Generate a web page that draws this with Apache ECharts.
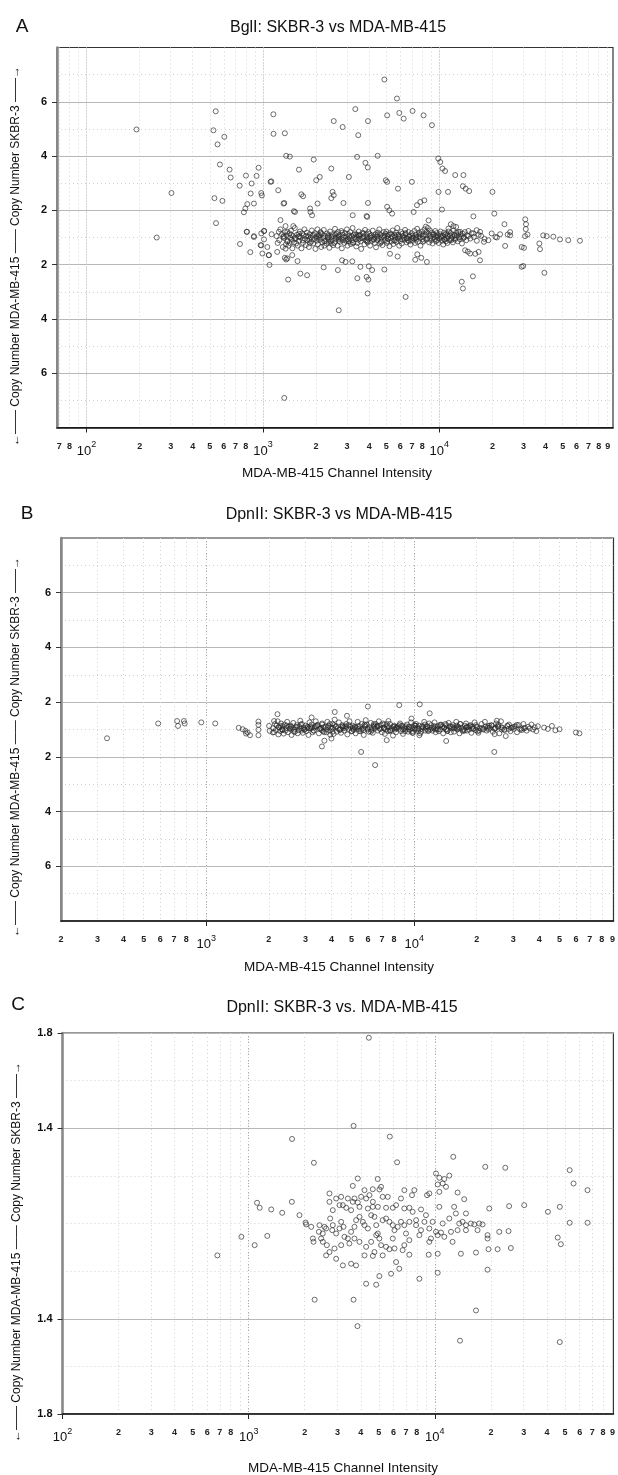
<!DOCTYPE html>
<html><head><meta charset="utf-8">
<script src="https://cdn.jsdelivr.net/npm/echarts@6/dist/echarts.min.js"></script>
<style>html,body{margin:0;padding:0;background:#fff}#c{width:618px;height:1475px}</style>
</head><body><div id="c"></div>
<script>
// ---------- tick values ----------
const gridA = [70,80,90,100,200,300,400,500,600,700,800,900,1000,2000,3000,4000,5000,6000,7000,8000,9000,10000,20000,30000,40000,50000,60000,70000,80000,90000];
const gridB = [200,300,400,500,600,700,800,900,1000,2000,3000,4000,5000,6000,7000,8000,9000,10000,20000,30000,40000,50000,60000,70000,80000,90000];
const gridC = [100,200,300,400,500,600,700,800,900,1000,2000,3000,4000,5000,6000,7000,8000,9000,10000,20000,30000,40000,50000,60000,70000,80000,90000];
const labelsA = [70,80,100,200,300,400,500,600,700,800,1000,2000,3000,4000,5000,6000,7000,8000,10000,20000,30000,40000,50000,60000,70000,80000,90000];
const labelsB = [200,300,400,500,600,700,800,1000,2000,3000,4000,5000,6000,7000,8000,10000,20000,30000,40000,50000,60000,70000,80000,90000];
const labelsC = [100,200,300,400,500,600,700,800,1000,2000,3000,4000,5000,6000,7000,8000,10000,20000,30000,40000,50000,60000,70000,80000,90000];
const decades = [100,1000,10000];
const yLabeledAB = [-5,-3,-1,1,3,5];
const yDottedAB = [-6,-4,-2,0,2,4,6];
const yLabeledC = [-0.8,-0.4,0.4,0.8];
const yDottedC = [-0.6,-0.2,0,0.2,0.6];

// ---------- Panel A: BglI (intensity, copy-number offset) ----------
const bglOutliers = [[192,3.98],[303,1.64],[250,0.0],[540,4.65],[524,3.95],[604,3.71],[553,3.43],[570,2.69],[647,2.5],[656,2.21],[531,1.45],[589,1.35],[542,0.53],[738,1.91],[801,2.28],[863,1.99],[852,1.62],[920,2.27],[945,2.57],[978,1.64],[986,1.55],[1105,2.05],[1221,1.74],[1146,4.54],[1148,3.82],[1331,3.84],[1354,3.01],[1321,1.27],[815,1.23],[889,1.25],[780,0.93],[795,1.07],[812,0.21],[889,0.02],[741,-0.24],[848,-0.54],[978,-0.29],[978,0.15],[1016,0.24],[1079,-0.65],[1089,-1.01],[1257,0.64],[1390,-1.55],[1321,-5.91],[1354,-0.81],
[809,0.21],[889,0.05],[1014,0.24],[1014,-0.07],[1120,0.12],[1231,0.21],[1315,0.05],[1343,0.42],[1374,0.21],[1486,0.42],[970,-0.28],[1059,-0.35],[993,-0.59],[1081,-0.65],[1205,-0.53],[1343,-0.41],[1374,-0.77],[1466,-0.65],[1497,0.97],[1115,2.07],
[4880,5.82],[5750,5.12],[3340,4.73],[5060,4.5],[5930,4.59],[6280,4.38],[7050,4.66],[8140,4.5],[9080,4.14],[2520,4.29],[2830,4.07],[3940,4.29],[3470,3.77],[1420,2.98],[1940,2.87],[1600,2.5],[2440,2.54],[3420,2.97],[4470,3.01],[3810,2.75],[3930,2.58],[2005,2.11],[2100,2.23],[3070,2.23],[4970,2.11],[5060,2.05],[5830,1.8],[6990,2.05],[9860,2.91],[10120,2.78],[10420,2.54],[10780,2.45],[12300,2.3],[13700,2.3],[13600,1.89],[14100,1.8],[14760,1.71],[9900,1.68],[11200,1.68],[20000,1.68],[1650,1.59],[1690,1.52],[2480,1.68],[2520,1.56],[2440,1.45],[1309,1.25],[1520,0.94],[1860,0.94],[1900,0.82],[2040,1.25],[1850,1.07],[2860,1.27],[3940,1.27],[5060,1.13],[5210,1.0],[5400,0.88],[7470,1.19],[7800,1.31],[8220,1.37],[7150,0.94],[8690,0.63],[10350,1.03],[15600,0.78],[20500,0.88],[3230,0.82],[3900,0.76],[3870,0.79],
[1330,-0.75],[1570,-0.87],[1630,-1.33],[1780,-1.39],[2210,-1.1],[2660,-1.2],[2810,-0.84],[2940,-0.9],[3210,-0.88],[3570,-1.08],[3980,-1.06],[4160,-1.2],[4880,-1.18],[3430,-1.5],[3870,-1.45],[3960,-1.55],[3920,-2.06],[6440,-2.19],[2690,-2.68],[13400,-1.63],[13600,-1.88],[15500,-1.43],[7500,-0.62],[7900,-0.75],[8500,-0.9],[7300,-0.82],[17000,-0.84],[14500,-0.52],[16000,-0.6],[5250,-0.6],[5800,-0.7],[29300,-1.08],[29300,-0.35],
[23400,0.49],[25200,0.08],[24400,0.11],[23600,-0.31],[30700,0.67],[31000,0.49],[30900,0.31],[31600,0.11],[30600,0.05],[30200,-0.38],[29900,-1.05],[36900,-0.22],[37200,-0.43],[38800,0.08],[40600,0.05],[44300,0.03],[48300,-0.07],[53800,-0.1],[62700,-0.12],[39400,-1.3],[14000,-0.47],[14950,-0.59],[16700,-0.53],[17900,-0.16],[18970,-0.1],[21200,0.0],[22100,0.12],
[11270,0.33],[11620,0.49],[12030,0.42],[12450,0.39],[13120,0.21],[14620,0.24],[15600,0.15],[16290,0.27],[17020,0.21],[19800,0.15],[20800,0.02],[25200,0.2]];
const bglBand = [[1195,0.05],[1212,-0.2],[1238,-0.1],[1256,0.3],[1281,0.12],[1297,-0.35],[1318,-0.02],[1334,0.2],[1349,-0.25],[1362,0.08],[1381,-0.12],[1398,-0.3],[1413,0.15],[1426,0.0],[1441,0.25],[1456,-0.08],[1468,-0.4],[1483,0.05],[1497,-0.18],[1516,0.35],[1528,-0.05],[1544,-0.22],[1559,0.1],[1574,-0.3],[1588,0.02],[1603,-0.12],[1619,0.22],[1636,0.0],[1652,-0.4],[1668,0.15],[1688,-0.2],[1703,0.08],[1719,0.3],[1733,-0.05],[1751,-0.28],[1772,0.18],[1788,-0.1],[1806,0.04],[1821,-0.35],[1842,0.12],[1866,0.0],[1879,-0.15],[1894,0.26],[1911,0.07],[1928,-0.22],[1953,-0.06],[1968,0.16],[1984,-0.42],[2002,0.02],[2019,-0.12],[2037,0.3],[2051,-0.25],[2074,0.1],[2093,0.0],[2108,-0.08],[2121,0.2],[2139,-0.35],[2152,0.12],[2171,-0.18],[2196,-0.02],[2213,0.28],[2228,-0.3],[2247,0.06],[2266,-0.12],[2291,-0.22],[2309,0.15],[2327,0.0],[2344,0.09],[2362,-0.06],[2381,-0.38],[2403,0.22],[2421,-0.15],[2442,0.02],[2461,-0.1],[2479,0.12],[2501,-0.28],[2522,0.04],[2540,-0.2],[2561,0.32],[2583,-0.05],[2604,0.14],[2628,0.0],[2647,-0.3],[2666,0.2],[2688,-0.12],[2707,0.08],[2731,-0.16],[2760,-0.04],[2782,0.24],[2801,-0.4],[2826,0.1],[2848,-0.1],[2871,0.0],[2897,-0.2],[2922,0.16],[2951,0.03],[2972,-0.08],[2994,0.3],[3017,-0.3],[3044,0.12],[3069,-0.14],[3098,-0.02],[3121,0.2],[3147,-0.24],[3172,0.06],[3196,-0.1],[3223,0.35],[3251,-0.18],[3277,0.1],[3302,0.0],[3331,0.15],[3358,-0.06],[3382,-0.33],[3411,0.02],[3437,-0.2],[3468,-0.08],[3496,0.22],[3522,0.07],[3553,0.1],[3581,-0.14],[3607,-0.42],[3642,-0.03],[3671,0.18],[3702,0.0],[3733,0.05],[3761,-0.25],[3794,0.28],[3826,-0.1],[3858,0.12],[3897,0.0],[3921,-0.18],[3952,0.2],[3984,-0.05],[4013,0.14],[4049,-0.3],[4088,-0.02],[4121,0.08],[4158,-0.12],[4197,0.25],[4232,-0.08],[4268,0.02],[4303,-0.2],[4338,0.12],[4377,-0.36],[4411,0.04],[4452,-0.1],[4489,0.18],[4527,-0.04],[4566,0.3],[4604,-0.22],[4641,0.1],[4682,-0.14],[4720,0.0],[4759,-0.28],[4801,0.06],[4843,0.2],[4880,0.0],[4921,-0.1],[4963,0.14],[5004,0.22],[5049,-0.2],[5088,0.05],[5133,-0.06],[5177,0.1],[5219,-0.32],[5263,0.16],[5309,-0.02],[5352,-0.14],[5398,0.04],[5441,0.26],[5487,-0.24],[5533,-0.1],[5581,0.08],[5628,0.0],[5677,0.18],[5724,-0.16],[5772,0.35],[5823,-0.04],[5871,0.1],[5920,-0.3],[5971,0.02],[6022,-0.12],[6073,0.2],[6126,-0.22],[6179,0.14],[6232,0.06],[6287,0.0],[6341,-0.08],[6396,0.28],[6452,0.12],[6508,-0.18],[6565,-0.02],[6622,-0.1],[6680,0.2],[6738,0.04],[6797,0.08],[6856,-0.26],[6916,-0.05],[6977,0.16],[7038,-0.12],[7100,0.0],[7162,-0.04],[7225,0.24],[7288,-0.2],[7352,0.1],[7417,-0.08],[7482,0.32],[7548,-0.16],[7614,0.04],[7681,0.18],[7749,0.0],[7817,-0.3],[7886,0.12],[7955,0.22],[8025,-0.06],[8096,0.06],[8167,-0.12],[8239,0.3],[8312,0.1],[8385,0.4],[8459,0.2],[8533,-0.04],[8608,0.35],[8684,0.14],[8761,-0.18],[8838,0.26],[8916,0.05],[8994,-0.1],[9074,0.18],[9154,-0.22],[9234,0.0],[9316,0.1],[9398,-0.06],[9480,0.24],[9564,-0.14],[9648,0.16],[9733,0.02],[9819,0.08],[9905,-0.2],[9992,-0.04],[10080,0.12],[10170,0.22],[10260,0.0],[10350,-0.12],[10440,0.06],[10530,-0.26],[10630,0.18],[10720,-0.08],[10820,0.1],[10910,0.14],[11010,-0.02],[11110,-0.2],[11210,0.04],[11310,0.22],[11410,-0.1],[11510,0.08],[11620,0.16],[11720,-0.04],[11830,0.02],[11930,-0.18],[12040,0.26],[12150,0.1],[12260,-0.08],[12370,-0.02],[12480,0.18],[12600,0.08],[12710,-0.14],[12830,0.2],[12950,0.0],[13070,-0.06],[13190,0.12],[13310,0.04],[13430,-0.22],[13560,0.14],[13690,-0.02],[13820,0.0],[13950,0.2],[14210,-0.1],[14340,0.08],[14600,0.05],[14980,-0.04],[15240,0.16],[15690,0.02],[16320,-0.12],[16700,0.1],[17250,0.06],[18050,-0.05],
[1305,0.02],[1372,-0.15],[1447,0.1],[1521,-0.02],[1598,0.14],[1679,-0.1],[1761,0.06],[1849,-0.2],[1939,0.1],[2032,-0.04],[2129,0.16],[2233,-0.14],[2338,0.04],[2451,-0.22],[2566,0.1],[2690,-0.06],[2815,0.18],[2948,-0.12],[3086,0.06],[3231,-0.2],[3383,0.1],[3541,-0.04],[3707,0.14],[3881,-0.14],[4063,0.04],[4254,-0.06],[4453,0.1],[4662,-0.18],[4880,0.08],[5109,-0.04],[5349,0.12],[5599,-0.12],[5862,0.04],[6136,-0.06],[6424,0.16],[6725,-0.14],[7040,0.06],[7370,-0.02],[7716,0.12],[8077,-0.16],[8456,0.08],[8852,-0.04],[9267,0.12],[9701,-0.1],[10156,0.04],[10632,-0.06],[11130,0.1],[11652,-0.1],[12197,0.06],
[1420,-0.2],[1610,0.04],[1830,-0.08],[2080,0.06],[2360,-0.16],[2680,0.02],[3040,-0.06],[3450,0.08],[3920,-0.1],[4450,0.02],[5060,-0.14],[5750,0.1],[6530,-0.04],[7420,0.02],[8430,-0.08],[9580,0.04],[10890,-0.14]];

// ---------- Panel B: DpnII ----------
const dpnOutliers = [[333,-0.32],[587,0.22],[724,0.31],[731,0.13],[780,0.31],[787,0.22],[946,0.26],[1104,0.22],[1432,0.06],[1496,0.01],[1542,-0.05],[1581,-0.11],[1623,-0.21],[1553,-0.15],[1782,0.29],[1782,0.17],[1782,-0.01],[1782,-0.21],[2005,0.13],[2018,-0.05],[2118,0.31],[2280,0.13],[2322,0.01],[2090,-0.11],
[2200,0.56],[3210,0.44],[4150,0.64],[4750,0.5],[5990,0.84],[8480,0.89],[10640,0.92],[11880,0.59],[9710,0.4],[7520,0.31],[3600,-0.62],[3700,-0.41],[4000,-0.33],[3950,-0.19],[5560,-0.82],[6490,-1.3],[7380,-0.39],[14260,-0.42],[10600,-0.21],[9800,-0.12],[24300,-0.82],[25000,0.32],[24400,-0.17],[31200,0.17],[32800,0.04],[33700,0.04],[62400,-0.14],[60000,-0.11],[50100,0.01],[46000,0.13],[42200,0.07],[44000,0.02],[47800,-0.03]];
const dpnBandX = [2100,2118,2141,2160,2183,2204,2222,2247,2268,2290,2311,2335,2356,2380,2403,2426,2450,2474,2497,2522,2546,2571,2596,2620,2646,2672,2698,2724,2750,2777,2804,2831,2859,2886,2914,2943,2971,3000,
3030,3067,3101,3139,3172,3210,3248,3285,3324,3362,3401,3442,3481,3523,3564,3606,3648,3691,3735,3778,3823,3868,3913,3959,4006,4052,4100,4148,4197,4246,4296,4346,4397,4449,4501,4554,4607,4661,4716,4771,4827,4884,4941,5000,
5060,5117,5174,5231,5290,5350,5410,5470,5532,5594,5657,5720,5784,5849,5915,5981,6048,6116,6185,6254,6325,6396,6468,6540,6614,6688,6763,6839,6916,6994,7073,7152,7233,7314,7396,7479,7563,7648,7734,7821,7909,7998,
8090,8180,8270,8360,8455,8550,8645,8740,8840,8940,9040,9140,9245,9350,9455,9560,9665,9775,9885,9995,10110,10220,10340,10455,10570,10690,10810,10930,11050,11180,11300,11430,11560,11690,11820,11950,
12090,12240,12390,12540,12690,12840,13000,13150,13310,13470,13630,13800,13960,14130,14300,14480,14650,14830,15010,15190,15370,15560,15750,15940,16130,16320,16520,16720,16920,17130,17330,17540,17750,17970,18190,18400,18630,18850,19080,19310,19540,19780,
20020,20380,20750,21120,21500,21890,22280,22680,23090,23500,23920,24350,24790,25240,25690,26150,26620,27100,27590,28080,28590,29100,29620,30150,30700,31250,31810,32380,32960,33550,34160,34770,35400,36030,36680,37340,38010,38690,39390,
3110,3350,3590,3850,4120,4420,4730,5070,5430,5820,6230,6680,7150,7660,8210,8790,9420,10090,10810,11580,12400,13280,14230,15240,16320,17480,18720,20050,21480,23000,24640,26390,
2560,2870,3220,3610,4050,4540,5090,5710,6400,7180,8050,9030,10130,11360,12740,14290,16030,17980,20170,22620,25370,28460];
const dpnBandY = [0.05,-0.1,0.2,-0.02,0.15,0.3,-0.18,0.08,-0.06,0.22,0.0,0.12,-0.15,0.18,-0.04,0.06,0.28,-0.1,0.1,0.02,0.14,-0.2,0.04,0.24,0.0,-0.08,0.08,0.16,-0.14,-0.02,0.1,0.32,0.04,0.2,-0.12,0.06,0.0,0.14,
-0.06,0.1,-0.2,0.26,0.04,0.18,-0.1,-0.04,0.08,0.3,0.12,0.16,-0.14,0.02,0.06,0.22,-0.06,-0.1,0.1,0.0,0.28,0.14,-0.04,0.08,0.02,0.2,-0.16,0.36,0.1,-0.08,0.04,0.26,0.0,-0.12,0.16,0.06,-0.04,0.12,0.2,-0.18,0.02,0.3,0.1,-0.06,
0.14,-0.02,0.1,-0.14,0.06,0.28,0.02,0.12,-0.06,0.2,0.04,-0.2,0.1,0.34,0.18,0.0,-0.08,0.08,0.24,-0.02,-0.12,0.14,0.04,0.2,0.1,-0.04,0.3,0.02,0.16,-0.1,0.22,0.06,-0.16,0.0,0.12,-0.06,0.08,0.2,-0.02,0.04,-0.22,0.14,
0.0,-0.1,0.06,0.12,0.02,0.22,-0.06,0.14,-0.16,0.04,0.08,0.0,0.18,-0.08,0.1,-0.02,0.26,0.06,-0.12,0.16,0.0,0.2,0.04,-0.06,0.14,-0.14,0.02,0.12,0.08,0.28,-0.04,0.02,0.12,-0.06,0.22,0.0,
0.16,-0.04,0.08,0.26,-0.1,0.04,0.12,-0.06,0.0,0.18,0.1,-0.14,0.06,0.2,0.02,-0.04,0.24,0.12,-0.1,0.04,0.16,-0.08,0.06,0.28,0.0,0.1,-0.14,0.2,0.06,-0.06,0.02,0.14,0.22,-0.04,0.08,0.0,0.16,-0.12,0.1,0.04,0.26,-0.02,
0.1,-0.12,0.04,0.2,0.0,0.28,-0.04,0.12,0.06,0.16,-0.08,0.02,0.22,0.1,-0.14,0.3,0.06,0.0,-0.24,0.14,0.18,-0.06,0.08,0.02,0.12,-0.1,0.16,0.0,-0.02,0.2,0.06,-0.04,0.1,0.04,0.18,0.0,0.08,-0.06,0.12,
0.04,0.12,-0.02,0.08,0.16,0.0,0.1,0.06,-0.06,0.14,0.02,0.1,0.18,-0.04,0.08,0.12,0.02,0.06,-0.08,0.1,0.04,0.16,0.0,0.1,0.06,-0.04,0.12,0.08,0.02,0.14,0.06,0.0,
0.1,-0.04,0.06,0.18,-0.08,0.12,0.02,-0.02,0.2,0.04,0.1,-0.06,0.14,0.08,0.0,0.16,0.04,0.1,-0.06,0.06,0.12,0.02];
const dpnCore = [[2230,0.08],[2330,-0.02],[2440,0.14],[2530,0.04],[2640,-0.08],[2740,0.1],[2850,0.18],[2960,0.0],[3060,0.06],[3170,0.12],[3290,-0.04],[3410,0.16],[3530,0.02],[3660,0.08],[3790,-0.1],[3930,0.2],[4070,0.06],[4210,0.12],[4370,-0.02],[4520,0.1],[4680,0.04],[4850,0.16],[5020,-0.06],[5200,0.08],[5390,0.12],[5580,0.0],[5780,0.18],[5990,0.04],[6200,-0.08],[6430,0.1],[6660,0.14],[6890,0.02],[7140,0.06],[7390,0.2],[7660,-0.04],[7930,0.1],[8220,0.04],[8510,0.16],[8820,0.0],[9130,0.12],[9460,0.08],[9800,-0.06],[10150,0.14],[10510,0.02],[10890,0.1],[11280,0.18],[11680,-0.02],[12100,0.06],[12540,0.12],[12990,0.0],[13450,0.16],[13930,0.08],[14430,-0.06],[14950,0.1],[15490,0.04],[16040,0.14],[16620,0.2],[17210,-0.02],[17830,0.08],[18470,0.12],[19130,0.02],[19820,0.16],[20530,-0.04],[21270,0.06],[22030,0.1],[22820,0.0],[23640,0.14],[24490,0.04],[25370,0.18],[26280,0.08],[27220,-0.02],[28200,0.12],[29210,0.06],[30260,0.1]];

// ---------- Panel C: DpnII (zoomed) ----------
const dpnZoomPoints = [[4420,0.78],[3660,0.41],[1710,0.355],[5730,0.365],[2240,0.255],[6270,0.257],[12560,0.28],[18660,0.238],[23900,0.234],
[10140,0.21],[10570,0.192],[11240,0.187],[11960,0.201],[11020,0.168],[11480,0.154],[10360,0.164],[3855,0.189],[3624,0.158],[4933,0.187],[5140,0.154],[4642,0.144],
[4190,0.14],[5040,0.143],[6860,0.14],[7760,0.14],[9080,0.119],[10570,0.133],[13250,0.13],[14380,0.102],
[2716,0.126],[3138,0.112],[3410,0.105],[2716,0.091],[2951,0.105],[3206,0.077],[3624,0.091],[4018,0.112],[3937,0.07],[4452,0.119],[4642,0.07],[5250,0.112],[5585,0.112],[5943,0.066],[6580,0.105],[7300,0.066],[7540,0.119],[9340,0.126],
[1109,0.087],[1146,0.066],[1322,0.059],[1514,0.045],[1706,0.091],[1875,0.035],
[2022,0.004],[2037,-0.004],[2167,-0.014],[2213,-0.063],[2555,-0.014],[2502,-0.077],[2384,-0.035],[2230,-0.077],
[914,-0.056],[1077,-0.091],[1259,-0.052],[679,-0.134],
[12970,0.042],[13520,0.0],[14090,0.007],[14690,-0.007],[15620,0.0],[16290,-0.004],[17310,0.0],[18040,-0.004],[13250,-0.028],[14690,-0.028],[16960,-0.028],[19190,-0.049],[19190,-0.063],[14690,0.042],[12700,0.07],
[19600,0.063],[25060,0.073],[30200,0.077],[22180,-0.035],[24880,-0.032],[25600,-0.103],[21730,-0.108],[19420,-0.108],[16630,-0.122],[13800,-0.127],
[10360,-0.127],[9270,-0.131],[10360,-0.207],[19190,-0.194],[16630,-0.365],[13650,-0.492],[8260,-0.232],
[9340,-0.077],[9530,-0.063],[10360,-0.049],[10790,-0.038],[11240,-0.056],[11020,0.0],[10570,0.07],[9340,-0.021],[8430,-0.028],[8790,0.007],[7930,0.014],[7300,0.007],[8430,0.059],
[2260,-0.32],[3660,-0.32],[3840,-0.431],
[55600,0.168],[66100,0.14],[53000,0.003],[66100,0.003],[40500,0.049],[46900,0.07],[45700,-0.059],[47500,-0.087],[46900,-0.498],[53000,0.224],
[2740,0.021],[2830,-0.007],[2810,-0.028],[2951,-0.042],[3076,-0.021],[3140,0.007],[3230,-0.014],[3270,-0.056],[3410,-0.063],[3550,-0.035],[3700,-0.014],[3776,0.014],[3937,0.028],[4103,0.007],[4190,-0.007],[4366,-0.021],[4550,0.035],[4740,0.028],[4841,-0.007],[4940,-0.042],[5035,-0.063],[5248,0.014],[5470,0.021],[5702,0.007],[5943,-0.007],[6068,-0.028],[6318,-0.014],[6580,0.007],[6855,-0.007],[6998,-0.042],[5943,-0.063],[5470,-0.098],[5702,-0.108],[6068,-0.105],[5140,-0.091],[4841,-0.049],[4550,-0.077],[4276,-0.098],[3937,-0.077],[3700,-0.063],[3475,-0.084],[3140,-0.091],[2890,-0.105],[2716,-0.12],[2606,-0.134],[2951,-0.148],[3206,-0.176],[3550,-0.169],[3776,-0.176],[4190,-0.134],[4645,-0.136],[4740,-0.12],[5248,-0.134],[6194,-0.162],[6442,-0.19],[5820,-0.211],[5035,-0.221],[4276,-0.253],[4841,-0.257],[7295,-0.131],[7295,-0.07],[6855,-0.091],[6714,-0.112],
[3076,0.077],[3342,0.066],[3550,0.056],[3700,0.105],[3855,0.088],[4276,0.105],[4645,0.091],[4940,0.07],[5470,0.066],[6194,0.077],[6855,0.063],[2830,0.056],[4366,0.063],
[2400,-0.007],[2500,-0.042],[2450,-0.063],[2606,-0.021],[2630,-0.091],
[7600,0.049],[7930,-0.007],[8260,-0.049],[8960,0.035],[9730,0.007],[10140,-0.035],[11960,0.021],[12210,-0.035],[12450,-0.077]];

// ---------- helpers ----------
const FONT = '"Liberation Sans", Arial, Helvetica, sans-serif';
const panelA = bglOutliers.concat(bglBand);
const panelB = dpnOutliers.concat(dpnBandX.map((x, i) => [x, dpnBandY[i]]), dpnCore);
const panelC = dpnZoomPoints;

function logLabel(v) {
  const e = Math.floor(Math.log10(v) + 1e-9);
  const m = Math.round(v / Math.pow(10, e));
  return m === 1 ? '{maj|10}{sup|' + e + '}' : '{min|' + m + '}';
}
const richX = {
  maj: {fontSize: 13, fontFamily: FONT, color: '#111', lineHeight: 17, verticalAlign: 'bottom'},
  sup: {fontSize: 9, fontFamily: FONT, color: '#111', lineHeight: 17, verticalAlign: 'top'},
  min: {fontSize: 9, fontFamily: FONT, fontWeight: 'bold', color: '#222', lineHeight: 12}
};
const grids = [
  {left: 57, top: 47.5, width: 556, height: 380},
  {left: 61, top: 538, width: 555, height: 383},
  {left: 62.5, top: 1033, width: 554, height: 381}
];
const xRanges = [[68, 96500, labelsA, gridA], [200, 91000, labelsB, gridB], [100, 91000, labelsC, gridC]];
const xAxes = [], yAxes = [];
xRanges.forEach((r, gi) => {
  xAxes.push({type: 'log', gridIndex: gi, min: r[0], max: r[1], position: 'bottom',
    axisLine: {show: true, onZero: false, lineStyle: {color: '#111', width: 1.6}},
    axisTick: {show: true, length: 5, customValues: decades, lineStyle: {color: '#222'}},
    axisLabel: {customValues: r[2], margin: 13, formatter: logLabel, rich: richX},
    splitLine: {show: true, lineStyle: {color: '#aaaaaa', type: [1, 2], width: 1}}});
  xAxes.push({type: 'log', gridIndex: gi, min: r[0], max: r[1], position: 'top',
    axisLine: {show: false}, axisLabel: {show: false},
    axisTick: {show: false, customValues: r[3]},
    splitLine: {show: true, lineStyle: {color: '#d2d2d2', type: [1, 3], width: 1}}});
});
const yDefs = [[-7, 7, yLabeledAB, yDottedAB, v => String(Math.round(Math.abs(v)) + 1)],
               [-7, 7, yLabeledAB, yDottedAB, v => String(Math.round(Math.abs(v)) + 1)],
               [-0.8, 0.8, yLabeledC, yDottedC, v => (Math.abs(v) + 1).toFixed(1)]];
yDefs.forEach((d, gi) => {
  yAxes.push({type: 'value', gridIndex: gi, min: d[0], max: d[1], position: 'left',
    axisLine: {show: true, onZero: false, lineStyle: {color: '#888', width: 2.5}},
    axisTick: {show: true, length: 5, customValues: d[2], lineStyle: {color: '#333'}},
    axisLabel: {customValues: d[2], formatter: d[4], margin: 10, fontFamily: FONT, fontSize: 11, fontWeight: 'bold', color: '#111'},
    splitLine: {show: true, lineStyle: {color: '#b8b8b8', width: 1}}});
  yAxes.push({type: 'value', gridIndex: gi, min: d[0], max: d[1], position: 'right',
    axisLine: {show: false}, axisLabel: {show: false},
    axisTick: {show: false, customValues: d[3]},
    splitLine: {show: true, lineStyle: {color: '#d0d0d0', type: [1, 3], width: 1}}});
});
const markStyle = {color: 'rgba(0,0,0,0)', borderColor: '#2a2a2a', borderWidth: 0.85};
const series = [panelA, panelB, panelC].map((data, gi) => ({
  type: 'scatter', xAxisIndex: gi * 2, yAxisIndex: gi * 2, data: data,
  symbol: 'circle', symbolSize: 5, itemStyle: markStyle, silent: true
}));

function txt(x, y, s, size, extra) {
  return Object.assign({type: 'text', x: x, y: y, silent: true,
    style: {text: s, fill: '#111', font: size + 'px ' + FONT, textAlign: 'center', textVerticalAlign: 'middle', verticalAlign: 'middle'}}, extra || {});
}
const yName = '\u2190\u2014\u2014 Copy Number MDA-MB-415 \u2014\u2014 Copy Number SKBR-3 \u2014\u2014\u2192';
const graphic = [
  txt(22, 27, 'A', 19), txt(27, 514, 'B', 19), txt(18, 1005, 'C', 19),
  txt(338, 28, 'BglI: SKBR-3 vs MDA-MB-415', 16),
  txt(339, 515, 'DpnII: SKBR-3 vs MDA-MB-415', 16),
  txt(342, 1008, 'DpnII: SKBR-3 vs. MDA-MB-415', 16),
  txt(337, 473, 'MDA-MB-415 Channel Intensity', 13.5),
  txt(339, 967, 'MDA-MB-415 Channel Intensity', 13.5),
  txt(343, 1468, 'MDA-MB-415 Channel Intensity', 13.5),
  txt(16, 256, yName, 12, {rotation: Math.PI / 2}),
  txt(16, 747, yName, 12, {rotation: Math.PI / 2}),
  txt(17, 1252, yName, 12, {rotation: Math.PI / 2})
];

const chart = echarts.init(document.getElementById('c'), null, {renderer: 'canvas'});
chart.setOption({
  animation: false, backgroundColor: '#fff',
  grid: grids.map(g => Object.assign({show: true, borderColor: '#333', borderWidth: 1.2, backgroundColor: 'transparent'}, g)),
  xAxis: xAxes, yAxis: yAxes, series: series, graphic: graphic
});
</script></body></html>
